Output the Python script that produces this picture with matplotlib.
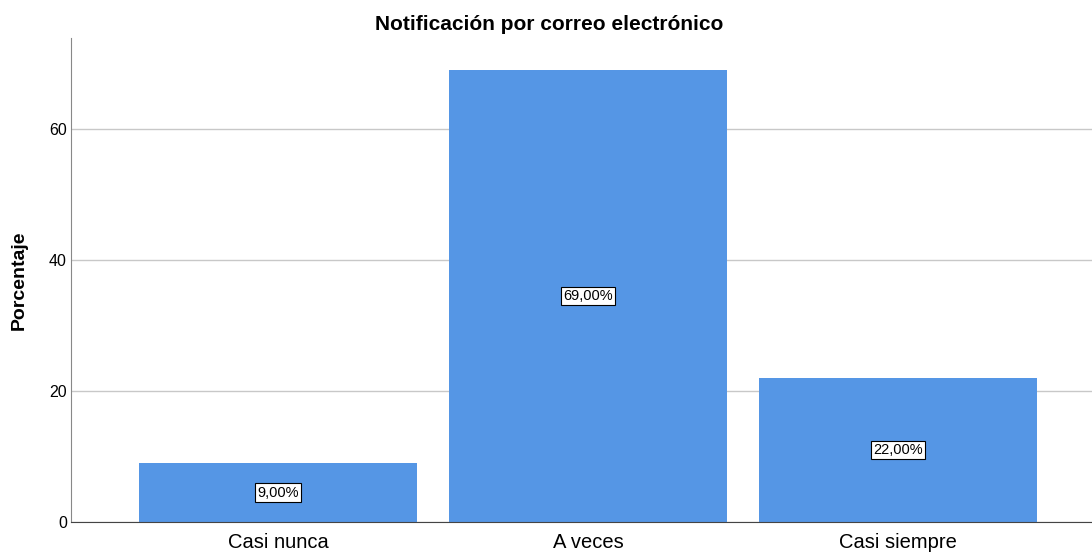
import matplotlib
matplotlib.use("Agg")
import matplotlib.pyplot as plt

plt.rcParams['font.family'] = ['Liberation Sans', 'DejaVu Sans']

categories = ["Casi nunca", "A veces", "Casi siempre"]
values = [9.0, 69.0, 22.0]
labels = ["9,00%", "69,00%", "22,00%"]
yticks = [0, 20, 40, 60]

fig = plt.figure(figsize=(10.92, 5.53), dpi=100)
ax = fig.add_axes([0.065, 0.056, 0.935, 0.875])

x = range(len(categories))
ax.bar(x, values, width=0.897, color="#5596e5", zorder=2)
for i, v in enumerate(values):
    ax.text(i, v / 2, labels[i], ha="center", va="center", fontsize=10.5, zorder=3,
            bbox=dict(boxstyle="square,pad=0.15", facecolor="white", edgecolor="black", linewidth=0.8))

ax.set_xlim(-0.668, 2.626)
ax.set_ylim(0, 73.9)
ax.set_xticks(list(x))
ax.set_xticklabels(categories, fontsize=14.5)
ax.set_yticks(yticks)
ax.tick_params(axis="y", labelsize=11.5, length=0, pad=3)
ax.tick_params(axis="x", length=0, pad=8)
ax.grid(axis="y", color="#c8c8c8", linewidth=1, zorder=0)

for s in ["top", "right"]:
    ax.spines[s].set_visible(False)
ax.spines["left"].set_color("#888888")
ax.spines["bottom"].set_color("#444444")

ax.set_ylabel("Porcentaje", fontsize=14, fontweight="bold")
ax.yaxis.set_label_coords(-0.042, 0.5)
fig.text(0.503, 0.972, "Notificación por correo electrónico", ha="center", va="top",
         fontsize=15, fontweight="bold")

fig.savefig("out.png", dpi=100)
